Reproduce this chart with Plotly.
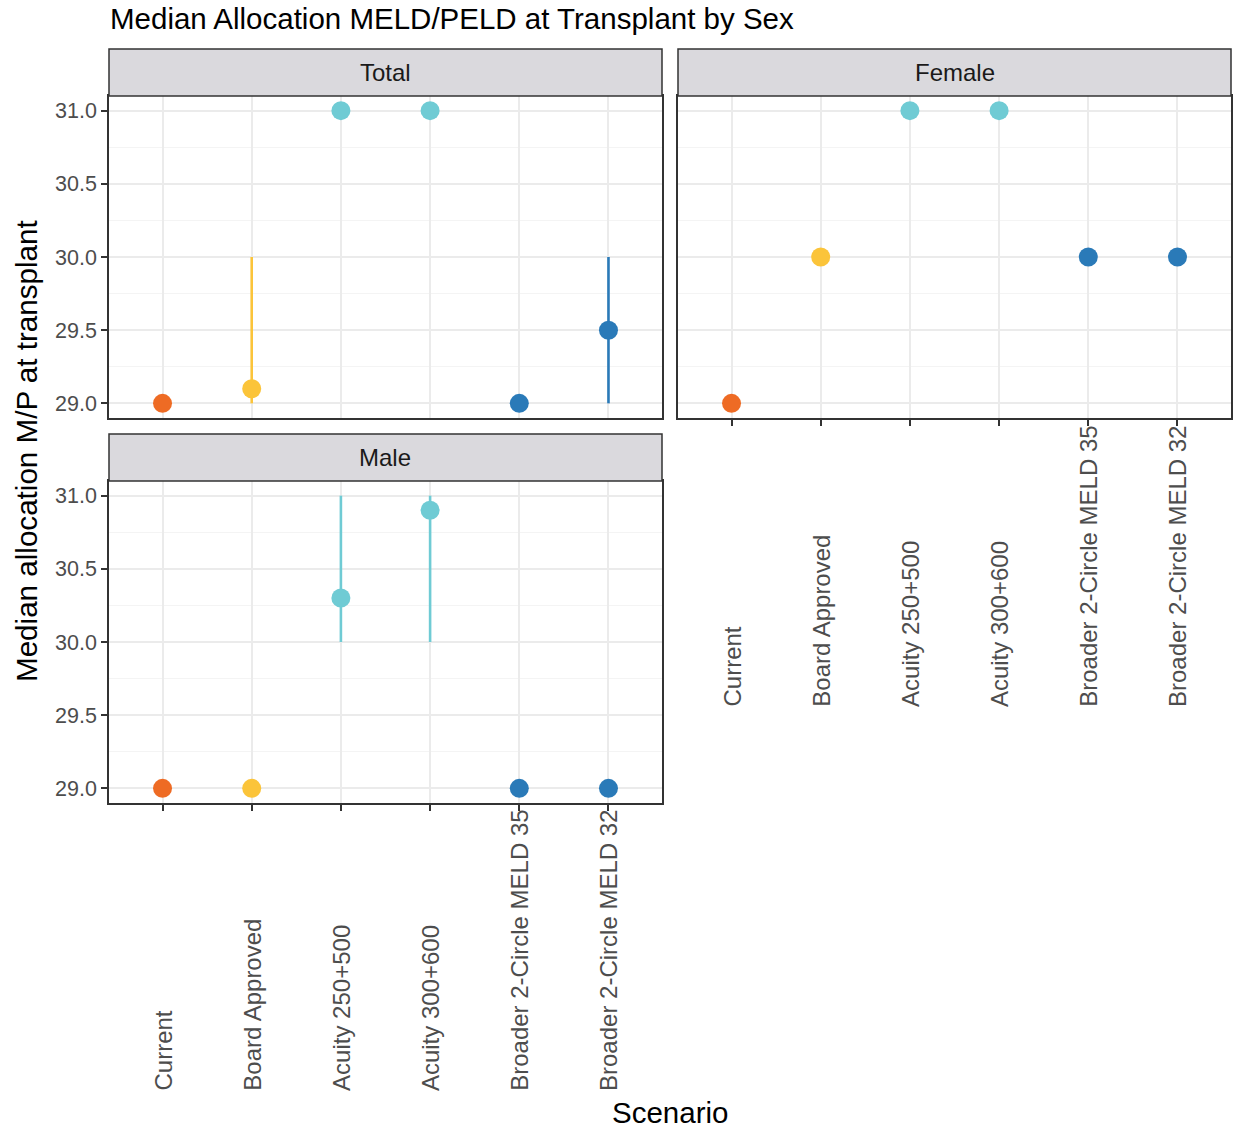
"""Median allocation MELD/PELD at transplant by sex, faceted point + range chart."""

import plotly.graph_objects as go

W, H = 1236, 1131

scenarios = [
    "Current", "Board Approved", "Acuity 250+500", "Acuity 300+600",
    "Broader 2-Circle MELD 35", "Broader 2-Circle MELD 32",
]
colors = ["#EE6B24", "#FBC43A", "#6FCBD4", "#6FCBD4", "#2A7AB8", "#2A7AB8"]

# Total
total_med = [29.0, 29.1, 31.0, 31.0, 29.0, 29.5]
total_lo = [29.0, 29.0, 31.0, 31.0, 29.0, 29.0]
total_hi = [29.0, 30.0, 31.0, 31.0, 29.0, 30.0]

# Female
female_med = [29.0, 30.0, 31.0, 31.0, 30.0, 30.0]
female_lo = [29.0, 30.0, 31.0, 31.0, 30.0, 30.0]
female_hi = [29.0, 30.0, 31.0, 31.0, 30.0, 30.0]

# Male
male_med = [29.0, 29.0, 30.3, 30.9, 29.0, 29.0]
male_lo = [29.0, 29.0, 30.0, 30.0, 29.0, 29.0]
male_hi = [29.0, 29.0, 31.0, 31.0, 29.0, 29.0]

y_ticks = [29.0, 29.5, 30.0, 30.5, 31.0]
y_minor = [29.25, 29.75, 30.25, 30.75]

FONT = "Liberation Sans, Arial, sans-serif"

panels = [
    ("Total", total_med, total_lo, total_hi, "x", "y"),
    ("Female", female_med, female_lo, female_hi, "x2", "y2"),
    ("Male", male_med, male_lo, male_hi, "x3", "y3"),
]

fig = go.Figure()
for name, med, lo, hi, xa, ya in panels:
    for i, s in enumerate(scenarios):
        fig.add_trace(go.Scatter(
            x=[s], y=[med[i]], mode="markers",
            marker=dict(color=colors[i], size=19),
            error_y=dict(type="data", symmetric=False,
                         array=[hi[i] - med[i]], arrayminus=[med[i] - lo[i]],
                         width=0, thickness=2.6, color=colors[i]),
            xaxis=xa, yaxis=ya, showlegend=False, hoverinfo="x+y",
        ))


def px_x(p):
    return p / W


def px_y(p):
    return 1 - p / H


# panel boxes in screen pixels: (left, right, top, bottom)
boxes = {
    "Total": (109, 662, 96, 418),
    "Female": (678, 1231, 96, 418),
    "Male": (109, 662, 481, 803),
}
strip_h = 47
# bottom of the rotated category labels, per panel that shows them
label_base = {"Female": ("x2", 708), "Male": ("x3", 1092)}

axis_common = dict(
    showline=True, linecolor="#333333", linewidth=1.5, mirror=True,
    gridcolor="#EBEBEB", gridwidth=1.5, zeroline=False,
    ticklen=6, tickwidth=1.5, tickcolor="#333333",
)

layout_axes = {}
names = {"Total": ("xaxis", "yaxis", "x", "y"),
         "Female": ("xaxis2", "yaxis2", "x2", "y2"),
         "Male": ("xaxis3", "yaxis3", "x3", "y3")}
for name, (l, r, t, b) in boxes.items():
    xk, yk, xref, yref = names[name]
    show_x = name != "Total"
    show_y = name != "Female"
    layout_axes[xk] = dict(
        axis_common, domain=[px_x(l), px_x(r)], anchor=yref,
        type="category", categoryorder="array", categoryarray=scenarios,
        range=[-0.6, 5.6], showticklabels=False,
        ticks="outside" if show_x else "",
    )
    layout_axes[yk] = dict(
        axis_common, domain=[px_y(b), px_y(t)], anchor=xref,
        range=[28.9, 31.1], tickvals=y_ticks,
        ticktext=[f"{v:.1f}" for v in y_ticks], showticklabels=show_y,
        ticks="outside" if show_y else "",
        tickfont=dict(family=FONT, size=21.5, color="#4D4D4D"),
        minor=dict(tickvals=y_minor, showgrid=True, gridcolor="#F4F4F4",
                   gridwidth=1, ticks=""),
    )

shapes = []
annotations = []
for name, (l, r, t, b) in boxes.items():
    shapes.append(dict(
        type="rect", xref="paper", yref="paper",
        x0=px_x(l), x1=px_x(r), y0=px_y(t), y1=px_y(t - strip_h),
        fillcolor="#DAD9DD", line=dict(color="#333333", width=1.5),
    ))
    annotations.append(dict(
        text=name, xref="paper", yref="paper", showarrow=False,
        x=px_x((l + r) / 2), y=px_y(t - strip_h / 2),
        xanchor="center", yanchor="middle",
        font=dict(family=FONT, size=24, color="#1A1A1A"),
    ))

# category labels, bottom-aligned like the reference
for name, (xref, base) in label_base.items():
    for s in scenarios:
        annotations.append(dict(
            text=s, xref=xref, yref="paper", x=s, y=px_y(base),
            xanchor="center", yanchor="bottom", textangle=-90,
            showarrow=False, borderpad=0,
            font=dict(family=FONT, size=24, color="#4D4D4D"),
        ))

annotations += [
    dict(text="Median Allocation MELD/PELD at Transplant by Sex",
         xref="paper", yref="paper", x=px_x(108), y=px_y(19),
         xanchor="left", yanchor="middle", showarrow=False,
         font=dict(family=FONT, size=29.5, color="black")),
    dict(text="Median allocation M/P at transplant",
         xref="paper", yref="paper", x=px_x(26), y=px_y(451),
         xanchor="center", yanchor="middle", textangle=-90, showarrow=False,
         font=dict(family=FONT, size=29.6, color="black")),
    dict(text="Scenario", xref="paper", yref="paper",
         x=px_x(670), y=px_y(1112), xanchor="center", yanchor="middle",
         showarrow=False, font=dict(family=FONT, size=29.5, color="black")),
]

fig.update_layout(
    width=W, height=H,
    margin=dict(l=0, r=0, t=0, b=0),
    paper_bgcolor="white", plot_bgcolor="white",
    font=dict(family=FONT),
    shapes=shapes, annotations=annotations,
    **layout_axes,
)

# drop the default page margin so the figure fills the window exactly
fig.write_html(
    "out.html",
    config={"displayModeBar": False},
    post_script="document.body.style.margin='0';"
                "document.body.style.overflow='hidden';",
)
